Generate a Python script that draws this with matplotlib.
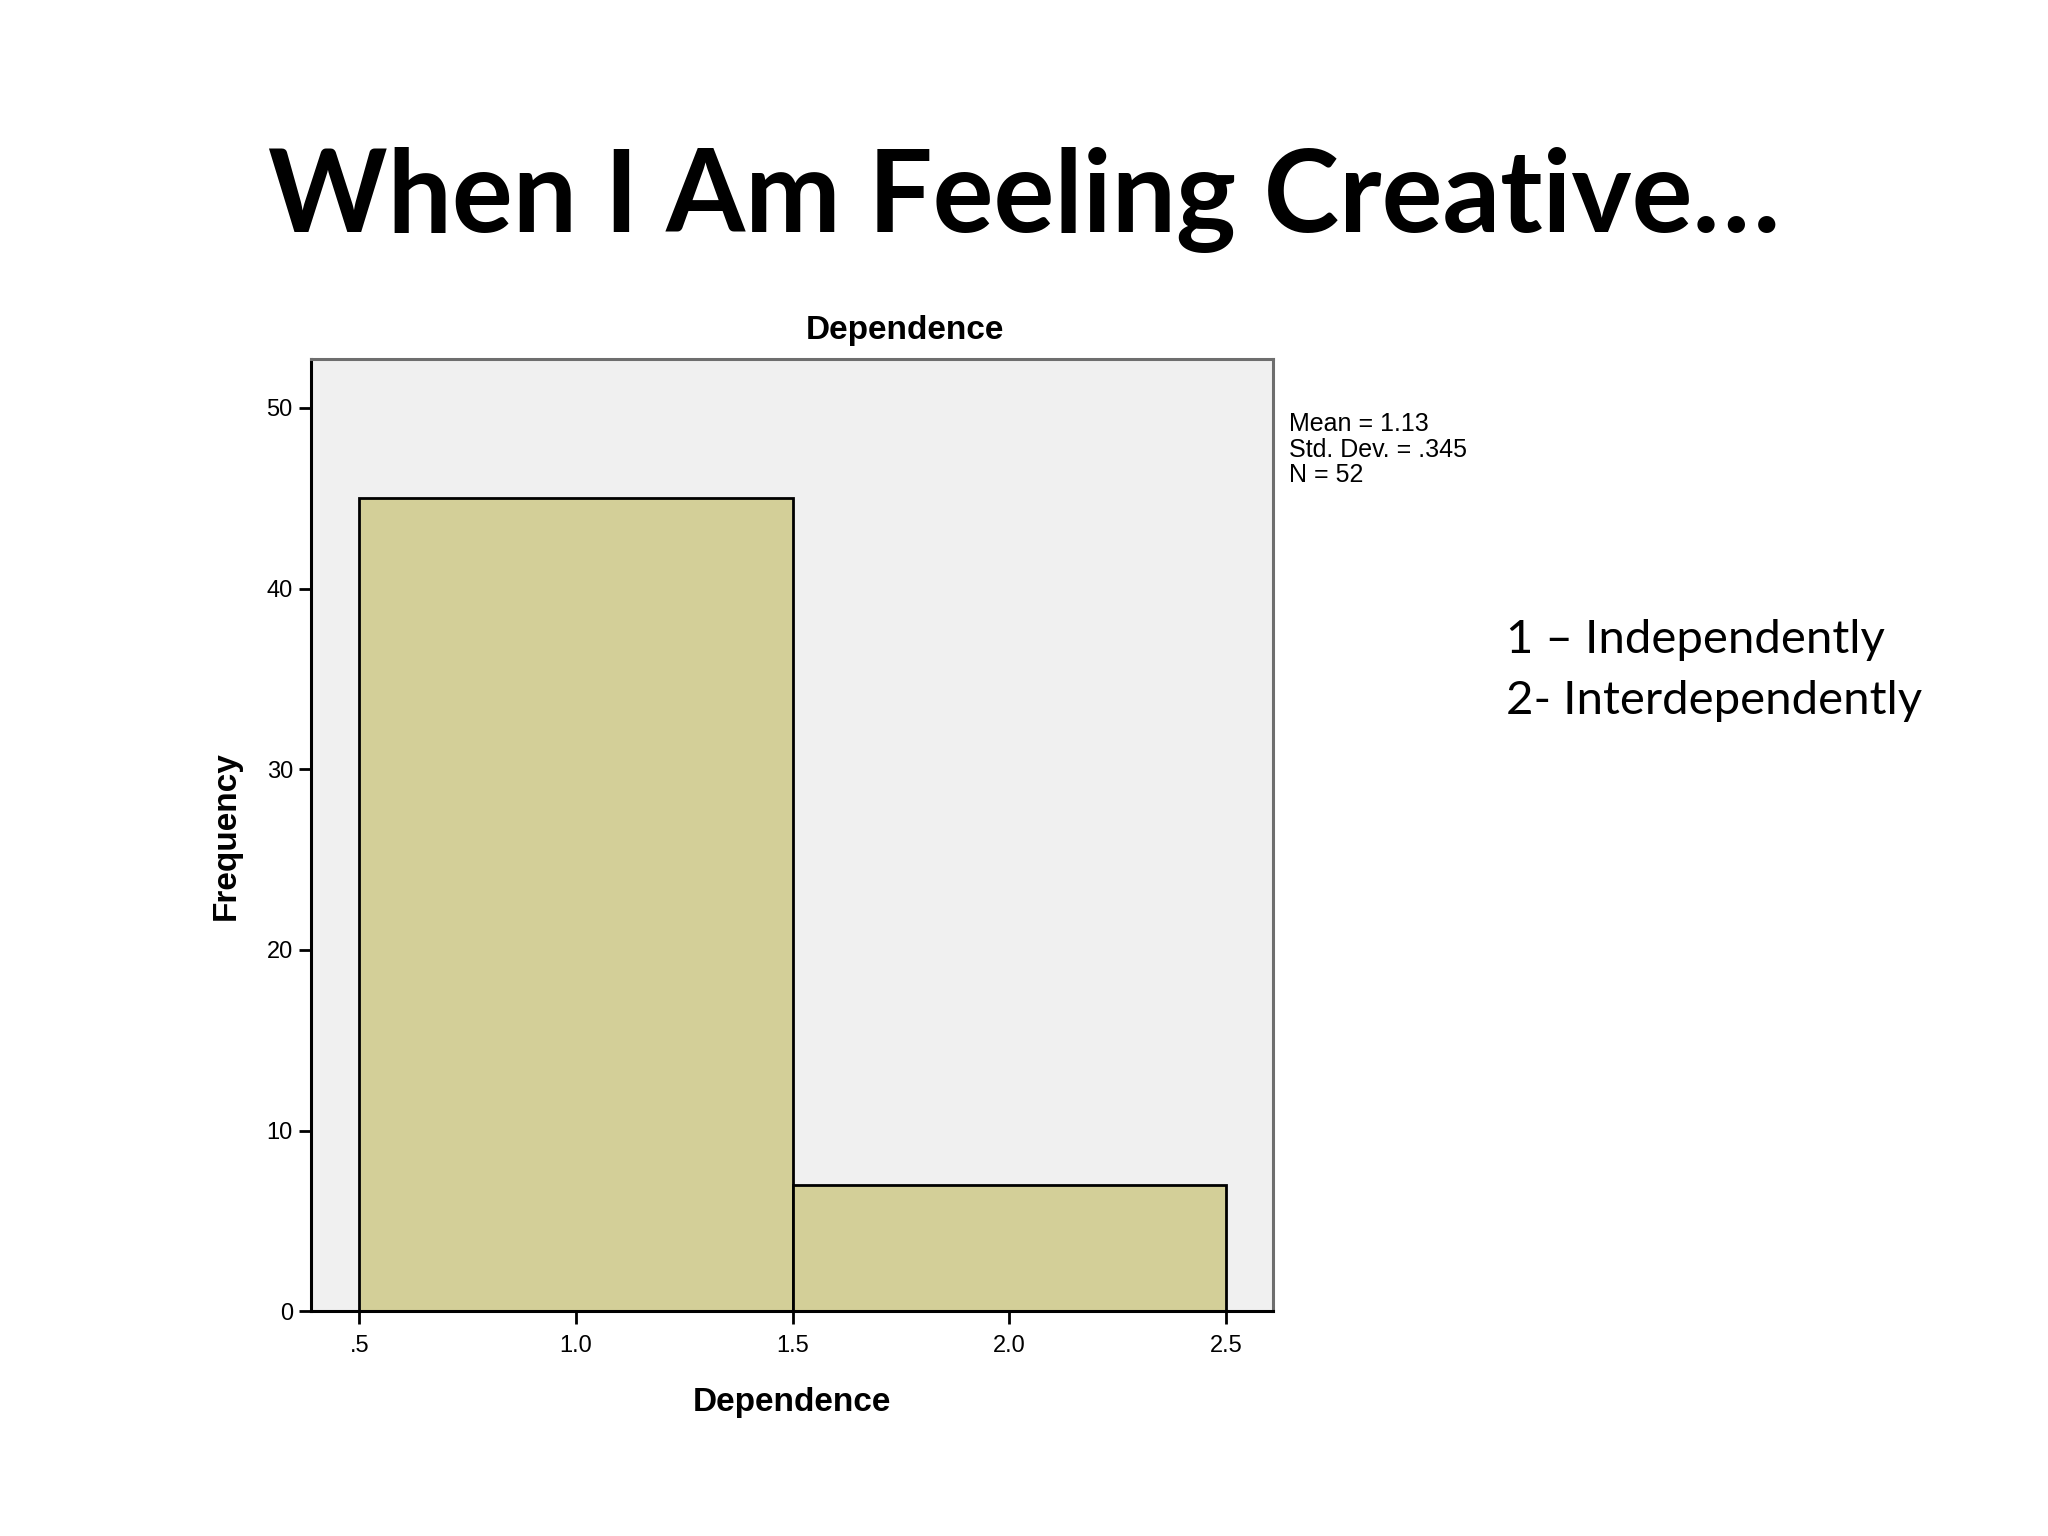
import matplotlib
matplotlib.use("Agg")
import matplotlib.pyplot as plt

# histogram data
bin_edges = [0.5, 1.5, 2.5]
counts = [45, 7]
x_ticks = [0.5, 1.0, 1.5, 2.0, 2.5]
x_tick_labels = [".5", "1.0", "1.5", "2.0", "2.5"]
y_ticks = [0, 10, 20, 30, 40, 50]
stats_lines = ["Mean = 1.13", "Std. Dev. = .345", "N = 52"]
legend_lines = ["1 \u2013 Independently", "2- Interdependently"]

spss_font = ["Liberation Sans Narrow", "Liberation Sans", "DejaVu Sans"]
slide_font = ["Lato", "Open Sans", "DejaVu Sans"]

fig = plt.figure(figsize=(20.48, 15.36), dpi=100)
fig.patch.set_facecolor("white")

fig.text(0.5, 0.870, "When I Am Feeling Creative\u2026", ha="center", va="center",
         fontsize=82, fontweight="bold", family=slide_font)

ax = fig.add_axes([0.1518, 0.1463, 0.6218 - 0.1518, 0.7662 - 0.1463])
ax.set_facecolor("#F0F0F0")

widths = [bin_edges[i + 1] - bin_edges[i] for i in range(len(counts))]
ax.bar(bin_edges[:-1], counts, width=widths, align="edge",
       color="#D3CF98", edgecolor="black", linewidth=2)

ax.set_xlim(0.388, 2.61)
ax.set_ylim(0, 52.7)
ax.set_xticks(x_ticks)
ax.set_xticklabels(x_tick_labels)
ax.set_yticks(y_ticks)
ax.tick_params(axis="both", direction="out", length=9, width=2, labelsize=17, pad=4)
ax.tick_params(axis="x", pad=8)
for lbl in ax.get_xticklabels() + ax.get_yticklabels():
    lbl.set_family(spss_font)

for side in ["left", "bottom"]:
    ax.spines[side].set_color("black")
    ax.spines[side].set_linewidth(2.2)
for side in ["top", "right"]:
    ax.spines[side].set_color("#6E6E6E")
    ax.spines[side].set_linewidth(2.2)

# SPSS centres the chart title over the whole chart area, stats box included
fig.text(0.442, 0.785, "Dependence", ha="center", va="center",
         fontsize=24, fontweight="bold", family=spss_font)
ax.set_xlabel("Dependence", fontsize=24, fontweight="bold", family=spss_font, labelpad=22)
ax.set_ylabel("Frequency", fontsize=24, fontweight="bold", family=spss_font, labelpad=18)

fig.text(0.6295, 0.732, "\n".join(stats_lines), ha="left", va="top",
         fontsize=18, family=spss_font, linespacing=1.1)

fig.text(0.7353, 0.5833, legend_lines[0], ha="left", va="center",
         fontsize=34, family=slide_font)
fig.text(0.7353, 0.5434, legend_lines[1], ha="left", va="center",
         fontsize=34, family=slide_font)

fig.savefig("out.png", dpi=100, facecolor="white")
